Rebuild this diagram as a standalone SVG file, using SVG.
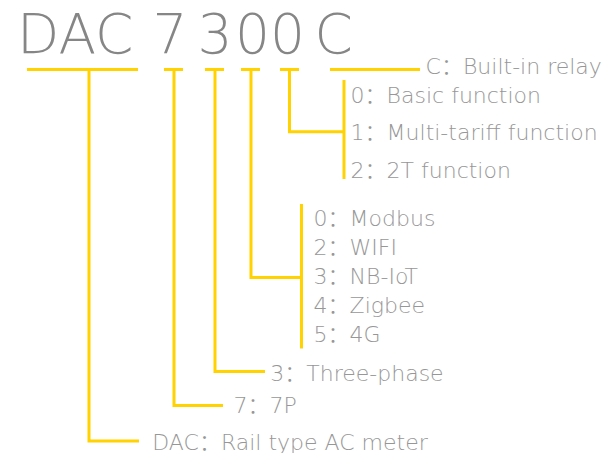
<svg xmlns="http://www.w3.org/2000/svg" width="610" height="453" viewBox="0 0 610 453">
<style>
.t{font-family:"DejaVu Sans","Noto Sans CJK SC",sans-serif;font-size:22px;fill:#979797;font-weight:300}
.h{font-family:"DejaVu Sans",sans-serif;font-size:55px;fill:#868686;font-weight:300}
.c{fill:none;stroke:#FFD200;stroke-width:3;stroke-linecap:butt;stroke-linejoin:miter}
</style>
<rect width="610" height="453" fill="#ffffff"/>
<g id="connectors" class="c">
<path d="M27,69.5H138"/>
<path d="M164,69.5H183"/>
<path d="M205,69.5H224"/>
<path d="M241,69.5H260"/>
<path d="M280,69.5H299"/>
<path d="M330,69.5H420"/>
<path d="M89,69.5V441H139"/>
<path d="M174,69.5V405.5H223"/>
<path d="M215,69.5V371.5H265"/>
<path d="M251,69.5V277.5H301.5"/>
<path d="M301.5,204V348.5"/>
<path d="M289.5,69.5V131.7H344"/>
<path d="M344,80V179"/>
</g>
<g id="code">
<text class="h" x="17" y="53">DAC</text>
<text class="h" x="170" y="53" text-anchor="middle">7</text>
<text class="h" x="215" y="53" text-anchor="middle">3</text>
<text class="h" x="252.5" y="53" text-anchor="middle">0</text>
<text class="h" x="287.5" y="53" text-anchor="middle">0</text>
<text class="h" x="314.5" y="53">C</text>
</g>
<g id="relay"><text class="t" x="425.6" y="73.5">C：Built-in relay</text></g>
<g id="function">
<text class="t" x="350.6" y="102.5">0：Basic function</text>
<text class="t" x="350.6" y="140">1：Multi-tariff function</text>
<text class="t" x="350.6" y="177.5">2：2T function</text>
</g>
<g id="communication">
<text class="t" x="313.6" y="226">0：Modbus</text>
<text class="t" x="313.6" y="255">2：WIFI</text>
<text class="t" x="313.6" y="284">3：NB-IoT</text>
<text class="t" x="313.6" y="313">4：Zigbee</text>
<text class="t" x="313.6" y="342">5：4G</text>
</g>
<g id="phase"><text class="t" x="270.3" y="381">3：Three-phase</text></g>
<g id="series"><text class="t" x="233.5" y="413">7：7P</text></g>
<g id="type"><text class="t" x="152.3" y="449.5">DAC：Rail type AC meter</text></g>
</svg>
